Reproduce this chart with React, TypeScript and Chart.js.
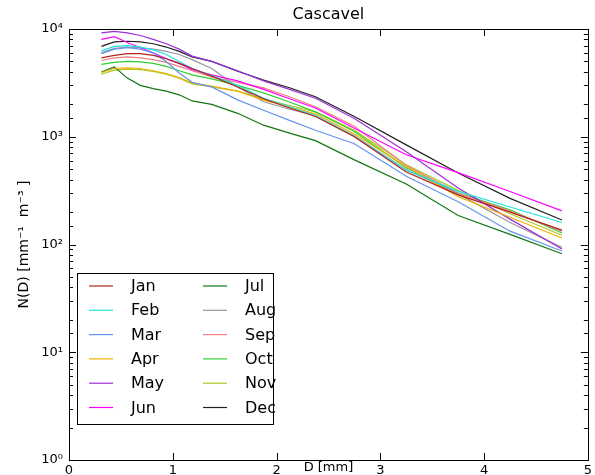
import React, { useEffect, useRef } from "react";
import { Chart, registerables } from "chart.js";

Chart.register(...registerables);

// Drop diameter class centres [mm]
const diameters = [0.312, 0.437, 0.562, 0.687, 0.812, 0.937, 1.062, 1.187, 1.375, 1.625, 1.875, 2.125, 2.375, 2.75, 3.25, 3.75, 4.25, 4.75];

const monthNames = ["Jan", "Feb", "Mar", "Apr", "May", "Jun", "Jul", "Aug", "Sep", "Oct", "Nov", "Dec"];

const jan = [5400, 5700, 5900, 5900, 5700, 5300, 4800, 4300, 3650, 2900, 2250, 1850, 1540, 1000, 470, 289, 200, 136];
const feb = [6260, 6900, 7000, 6800, 6400, 5800, 5000, 4300, 3700, 3000, 2275, 1900, 1575, 1010, 490, 311, 223, 160];
const mar = [5900, 6500, 6700, 6500, 6000, 5000, 3900, 3200, 2900, 2200, 1760, 1420, 1150, 860, 430, 249, 133, 87];
const apr = [3950, 4300, 4350, 4300, 4100, 3850, 3550, 3150, 2950, 2650, 2190, 1900, 1633, 1060, 530, 278, 179, 115];
const may = [9200, 9500, 9200, 8700, 8000, 7300, 6500, 5600, 5000, 4100, 3300, 2750, 2280, 1480, 726, 335, 172, 91];
const jun = [8000, 8500, 7500, 6700, 6000, 5300, 4800, 4200, 3750, 3300, 2750, 2250, 1850, 1200, 680, 465, 310, 205];
const jul = [3990, 4450, 3500, 3000, 2800, 2650, 2450, 2150, 2000, 1650, 1280, 1080, 920, 610, 365, 186, 124, 82];
const aug = [6000, 6600, 6800, 6700, 6500, 6200, 5800, 5200, 4300, 2900, 2113, 1800, 1575, 1020, 495, 295, 160, 94];
const sep = [5100, 5400, 5500, 5400, 5200, 4900, 4500, 4100, 3600, 3200, 2840, 2350, 1900, 1250, 541, 300, 204, 133];
const oct = [4700, 4900, 5000, 4950, 4800, 4500, 4100, 3750, 3450, 3000, 2550, 2100, 1700, 1120, 515, 300, 210, 128];
const nov = [3800, 4150, 4250, 4200, 4050, 3800, 3500, 3100, 2900, 2650, 2250, 1950, 1700, 1150, 550, 318, 193, 122];
const dec = [6900, 7600, 7700, 7600, 7300, 6800, 6200, 5500, 5000, 4050, 3350, 2850, 2350, 1540, 841, 460, 268, 169];

const series = [jan, feb, mar, apr, may, jun, jul, aug, sep, oct, nov, dec];

const lineColors = ["#b22222", "#22e0e0", "#6495ed", "#f0b000", "#9b30d9", "#ff00ff", "#117711", "#999999", "#f08080", "#32cd32", "#aacc22", "#222222"];

const xTickValues = [0, 1, 2, 3, 4, 5];
const yMin = 1;
const yMax = 10000;

const titleText = "Cascavel";
const xTitle = "D [mm]";
const yTitle = "N(D) [mm\u207B\u00B9  m\u207B\u00B3 ]";

const SUP: Record<string, string> = { "0": "\u2070", "1": "\u00B9", "2": "\u00B2", "3": "\u00B3", "4": "\u2074", "5": "\u2075", "6": "\u2076", "7": "\u2077", "8": "\u2078", "9": "\u2079" };

const FONT = "'DejaVu Sans', sans-serif";

const decorPlugin = {
  id: "decor",
  afterDraw(chart: any) {
    const { ctx, chartArea, scales } = chart;
    const xs = scales.x;
    const ys = scales.y;
    const { left, right, top, bottom } = chartArea;
    ctx.save();
    // frame
    ctx.strokeStyle = "#000";
    ctx.lineWidth = 1;
    ctx.strokeRect(Math.round(left) + 0.5, Math.round(top) + 0.5, Math.round(right - left), Math.round(bottom - top));
    // x ticks inward (bottom and top)
    ctx.beginPath();
    for (const v of xTickValues) {
      const px = Math.round(xs.getPixelForValue(v)) + 0.5;
      ctx.moveTo(px, bottom);
      ctx.lineTo(px, bottom - 7);
      ctx.moveTo(px, top);
      ctx.lineTo(px, top + 7);
    }
    // y ticks inward (left and right)
    for (const t of ys.ticks) {
      const v = t.value;
      const lg = Math.log10(v);
      const major = Math.abs(lg - Math.round(lg)) < 1e-9;
      const len = major ? 7 : 4;
      const py = Math.round(ys.getPixelForValue(v)) + 0.5;
      ctx.moveTo(left, py);
      ctx.lineTo(left + len, py);
      ctx.moveTo(right, py);
      ctx.lineTo(right - len, py);
    }
    ctx.stroke();

    // title
    ctx.fillStyle = "#000";
    ctx.font = `16px ${FONT}`;
    ctx.textAlign = "center";
    ctx.textBaseline = "alphabetic";
    ctx.fillText(titleText, (left + right) / 2, top - 10);

    // x title
    ctx.font = `13px ${FONT}`;
    ctx.fillText(xTitle, (left + right) / 2, 471);

    // y title
    ctx.save();
    ctx.translate(24, (top + bottom) / 2);
    ctx.rotate(-Math.PI / 2);
    ctx.textBaseline = "middle";
    ctx.font = `14px ${FONT}`;
    ctx.fillText(yTitle, 0, 0);
    ctx.restore();

    // legend
    const boxL = left + 8;
    const boxT = bottom - 187;
    const boxW = 196;
    const boxH = 151;
    ctx.fillStyle = "#fff";
    ctx.fillRect(boxL, boxT, boxW, boxH);
    ctx.strokeStyle = "#000";
    ctx.lineWidth = 1;
    ctx.strokeRect(Math.round(boxL) + 0.5, Math.round(boxT) + 0.5, boxW, boxH);
    ctx.font = `16px ${FONT}`;
    ctx.textAlign = "left";
    ctx.textBaseline = "middle";
    const ds = chart.data.datasets;
    for (let i = 0; i < ds.length; i++) {
      const col = Math.floor(i / 6);
      const row = i % 6;
      const cx = boxL + 12 + col * 114;
      const cy = boxT + 13 + row * 24.3;
      ctx.strokeStyle = ds[i].borderColor;
      ctx.lineWidth = 1.2;
      ctx.beginPath();
      ctx.moveTo(cx, cy);
      ctx.lineTo(cx + 24, cy);
      ctx.stroke();
      ctx.fillStyle = "#000";
      ctx.fillText(ds[i].label, cx + 42, cy + 1);
    }
    ctx.restore();
  },
};

export default function App() {
  const ref = useRef<HTMLCanvasElement | null>(null);
  useEffect(() => {
    document.body.style.margin = "0";
    const canvas = ref.current!;
    const chart = new Chart(canvas, {
      type: "line",
      data: {
        datasets: series.map((s, i) => ({
          label: monthNames[i],
          data: s.map((v, j) => ({ x: diameters[j], y: v })),
          borderColor: lineColors[i],
          backgroundColor: lineColors[i],
          borderWidth: 1.2,
          pointRadius: 0,
          tension: 0,
          fill: false,
        })),
      },
      options: {
        responsive: false,
        animation: false,
        devicePixelRatio: 1,
        layout: { padding: { top: 29, right: 6, left: 0, bottom: 0 } },
        plugins: { legend: { display: false }, title: { display: false }, tooltip: { enabled: false } },
        scales: {
          x: {
            type: "linear",
            min: 0,
            max: 5,
            grid: { display: false, drawTicks: false },
            border: { display: false },
            ticks: { stepSize: 1, padding: 3, color: "#000", font: { family: FONT, size: 13 } },
            afterFit: (s: any) => { s.height = 15; },
          },
          y: {
            type: "logarithmic",
            min: yMin,
            max: yMax,
            grid: { display: false, drawTicks: false },
            border: { display: false },
            ticks: {
              autoSkip: false,
              padding: 6,
              color: "#000",
              font: { family: FONT, size: 13 },
              callback: (v: any) => {
                const lg = Math.log10(Number(v));
                if (Math.abs(lg - Math.round(lg)) < 1e-9) {
                  return "10" + String(Math.round(lg)).split("").map((c) => SUP[c]).join("");
                }
                return "";
              },
            },
            afterFit: (s: any) => { s.width = 69; },
          },
        },
      },
      plugins: [decorPlugin],
    });
    return () => chart.destroy();
  }, []);
  return (
    <div style={{ position: "fixed", left: 0, top: 0, width: 595, height: 475, background: "#fff" }}>
      <canvas ref={ref} width={595} height={475} style={{ width: 595, height: 475, display: "block" }} />
    </div>
  );
}
